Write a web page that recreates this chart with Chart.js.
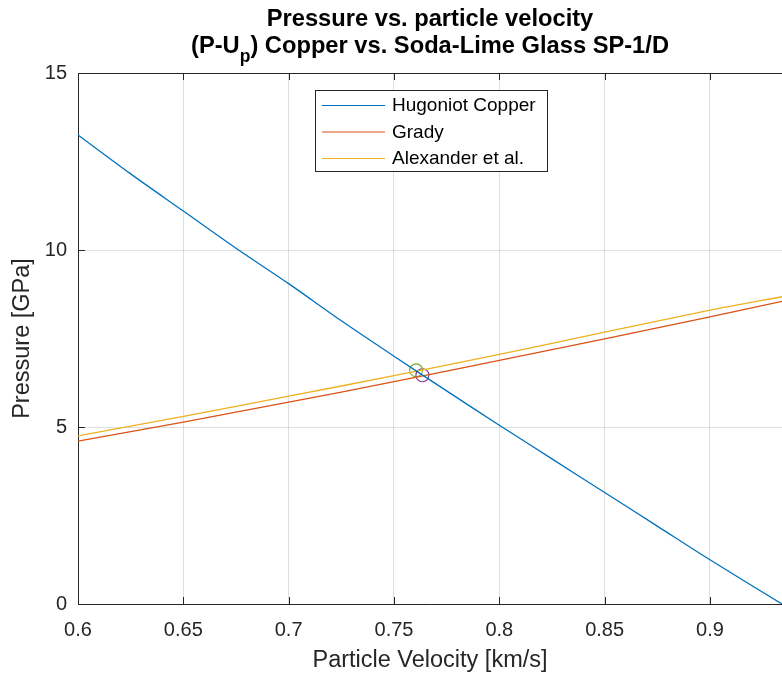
<!DOCTYPE html>
<html>
<head>
<meta charset="utf-8">
<script src="https://cdn.jsdelivr.net/npm/chart.js@4/dist/chart.umd.min.js"></script>
<style>
  html, body { margin: 0; padding: 0; background: #ffffff; }
  #wrap { width: 782px; height: 678px; }
</style>
</head>
<body>
<div id="wrap"><canvas id="c" width="782" height="678"></canvas></div>
<script>
// ---- data ----
const titleLine1 = 'Pressure vs. particle velocity';
const titleLine2 = ['(P-U', 'p', ') Copper vs. Soda-Lime Glass SP-1/D'];
const xLabel = 'Particle Velocity [km/s]';
const yLabel = 'Pressure [GPa]';

const seriesNames = ['Hugoniot Copper', 'Grady', 'Alexander et al.'];

const upHugoniot = [0.6, 0.625, 0.65, 0.675, 0.7, 0.725, 0.75, 0.775, 0.8, 0.825, 0.85, 0.875, 0.9, 0.9342];
const pHugoniot  = [13.25, 12.15, 11.1, 10.05, 9.05, 8.0, 7.0, 6.02, 5.05, 4.1, 3.15, 2.2, 1.25, 0];

const upGlass   = [0.6, 0.65, 0.7, 0.75, 0.8, 0.85, 0.9, 0.9342];
const pGrady    = [4.60, 5.14, 5.70, 6.28, 6.88, 7.49, 8.11, 8.55];
const pAlex     = [4.75, 5.30, 5.87, 6.45, 7.05, 7.68, 8.30, 8.68];

const crossAlex  = { x: 0.7605, y: 6.60 };
const crossGrady = { x: 0.7635, y: 6.46 };

const xTicks = [0.6, 0.65, 0.7, 0.75, 0.8, 0.85, 0.9];
const yTicks = [0, 5, 10, 15];
const xMin = 0.6, xMax = 0.9342, yMin = 0, yMax = 15;

const colors = ['#0072BD', '#D95319', '#EDB120'];
const circleColors = ['#77AC30', '#7E2F8E'];

const FONT = '"Liberation Sans", Arial, Helvetica, sans-serif';
const AXIS = '#262626';
const GRID = 'rgba(38,38,38,0.15)';

function pts(xs, ys) { return xs.map((x, i) => ({ x: x, y: ys[i] })); }

// ---- plugins ----
const framePlugin = {
  id: 'frame',
  afterDraw(chart) {
    const ctx = chart.ctx, a = chart.chartArea;
    const xs = chart.scales.x, ys = chart.scales.y;
    ctx.save();
    ctx.strokeStyle = AXIS;
    ctx.lineWidth = 1;
    ctx.beginPath();
    ctx.moveTo(a.left, a.top + 0.5);
    ctx.lineTo(a.right, a.top + 0.5);
    ctx.stroke();
    const tl = 7;
    xTicks.forEach(v => {
      const px = Math.round(xs.getPixelForValue(v)) + 0.5;
      ctx.beginPath();
      ctx.moveTo(px, a.bottom); ctx.lineTo(px, a.bottom - tl);
      ctx.moveTo(px, a.top); ctx.lineTo(px, a.top + tl);
      ctx.stroke();
    });
    yTicks.forEach(v => {
      const py = Math.round(ys.getPixelForValue(v)) + 0.5;
      ctx.beginPath();
      ctx.moveTo(a.left, py); ctx.lineTo(a.left + tl, py);
      ctx.stroke();
    });
    ctx.restore();
  }
};

const titlePlugin = {
  id: 'twoLineTitle',
  afterDraw(chart) {
    const ctx = chart.ctx;
    const cx = 430;
    ctx.save();
    ctx.fillStyle = '#000000';
    ctx.textBaseline = 'alphabetic';
    const f = 'bold 23.7px ' + FONT;
    const fs = 'bold 17.5px ' + FONT;
    ctx.font = f;
    ctx.textAlign = 'center';
    ctx.fillText(titleLine1, cx, 26);
    ctx.textAlign = 'left';
    ctx.font = f; const w1 = ctx.measureText(titleLine2[0]).width;
    ctx.font = fs; const w2 = ctx.measureText(titleLine2[1]).width;
    ctx.font = f; const w3 = ctx.measureText(titleLine2[2]).width;
    let x = cx - (w1 + w2 + w3) / 2;
    ctx.font = f; ctx.fillText(titleLine2[0], x, 53); x += w1;
    ctx.font = fs; ctx.fillText(titleLine2[1], x, 62); x += w2;
    ctx.font = f; ctx.fillText(titleLine2[2], x, 53);
    ctx.restore();
  }
};

const legendPlugin = {
  id: 'boxLegend',
  afterDraw(chart) {
    const ctx = chart.ctx;
    const box = { x: 315.5, y: 90.5, w: 232, h: 81 };
    ctx.save();
    ctx.fillStyle = '#ffffff';
    ctx.fillRect(box.x, box.y, box.w, box.h);
    ctx.strokeStyle = AXIS;
    ctx.lineWidth = 1;
    ctx.strokeRect(box.x, box.y, box.w, box.h);
    ctx.font = '19px ' + FONT;
    ctx.textBaseline = 'middle';
    ctx.textAlign = 'left';
    const rows = [105, 131.5, 158];
    chart.data.datasets.slice(0, 3).forEach((ds, i) => {
      ctx.strokeStyle = ds.borderColor;
      ctx.lineWidth = 1.2;
      ctx.beginPath();
      ctx.moveTo(322, rows[i] + 0.5);
      ctx.lineTo(385, rows[i] + 0.5);
      ctx.stroke();
      ctx.fillStyle = '#000000';
      ctx.fillText(ds.label, 392, rows[i] + 1);
    });
    ctx.restore();
  }
};

const lineDs = (label, data, color) => ({
  label: label, data: data, borderColor: color, backgroundColor: color,
  borderWidth: 1.3, pointRadius: 0, fill: false, tension: 0.3, showLine: true
});

new Chart(document.getElementById('c'), {
  type: 'scatter',
  data: {
    datasets: [
      lineDs(seriesNames[0], pts(upHugoniot, pHugoniot), colors[0]),
      lineDs(seriesNames[1], pts(upGlass, pGrady), colors[1]),
      lineDs(seriesNames[2], pts(upGlass, pAlex), colors[2]),
      { label: 'cross1', data: [crossAlex], showLine: false, pointRadius: 6.5, pointHoverRadius: 6.5,
        pointBorderWidth: 1.1, borderColor: circleColors[0], backgroundColor: 'rgba(0,0,0,0)', pointStyle: 'circle' },
      { label: 'cross2', data: [crossGrady], showLine: false, pointRadius: 6.5, pointHoverRadius: 6.5,
        pointBorderWidth: 1.1, borderColor: circleColors[1], backgroundColor: 'rgba(0,0,0,0)', pointStyle: 'circle' }
    ]
  },
  options: {
    responsive: false,
    animation: false,
    events: [],
    layout: { autoPadding: false, padding: { top: 73, right: 0, left: 0, bottom: 0 } },
    plugins: {
      legend: { display: false },
      title: { display: false },
      tooltip: { enabled: false }
    },
    scales: {
      x: {
        type: 'linear', min: xMin, max: xMax,
        afterFit(s) { s.height = 74; s.paddingRight = 0; s.paddingLeft = 0; },
        afterBuildTicks(s) { s.ticks = xTicks.map(v => ({ value: v })); },
        ticks: {
          color: AXIS, padding: 14, maxRotation: 0, autoSkip: false,
          font: { family: FONT, size: 20 },
          callback: v => String(Math.round(v * 100) / 100)
        },
        grid: { color: GRID, drawTicks: false, lineWidth: 1 },
        border: { color: AXIS, width: 1 },
        title: { display: true, text: xLabel, color: AXIS, font: { family: FONT, size: 23.5 }, padding: { bottom: 3 } }
      },
      y: {
        type: 'linear', min: yMin, max: yMax,
        afterFit(s) { s.width = 78; s.paddingTop = 0; s.paddingBottom = 0; },
        afterBuildTicks(s) { s.ticks = yTicks.map(v => ({ value: v })); },
        ticks: {
          color: AXIS, padding: 11, autoSkip: false,
          font: { family: FONT, size: 20 },
          callback: v => String(v)
        },
        grid: { color: GRID, drawTicks: false, lineWidth: 1 },
        border: { color: AXIS, width: 1 },
        title: { display: true, text: yLabel, color: AXIS, font: { family: FONT, size: 23.5 }, padding: { top: 8 } }
      }
    }
  },
  plugins: [framePlugin, titlePlugin, legendPlugin]
});
</script>
</body>
</html>
